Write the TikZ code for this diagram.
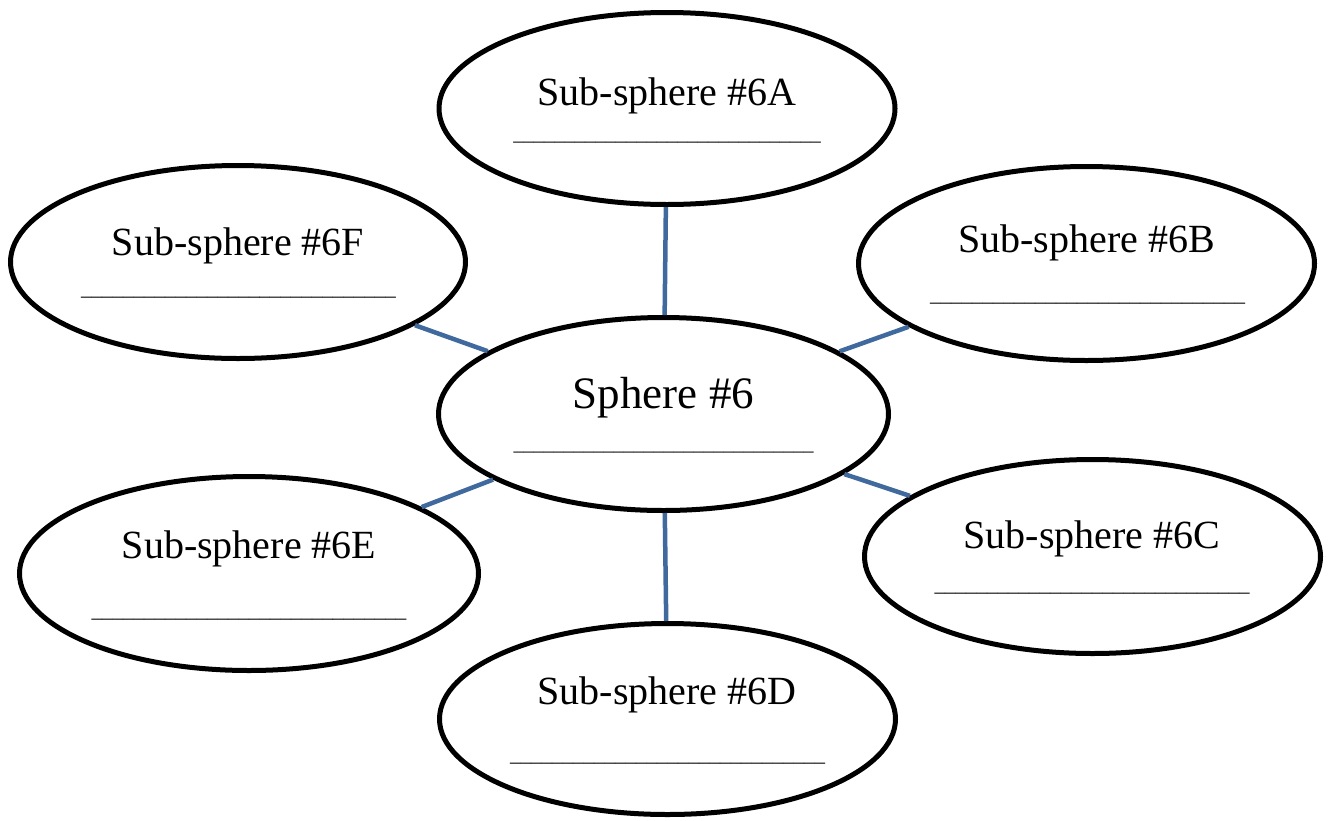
\documentclass[tikz,border=0pt]{standalone}
\usepackage{fontspec}
\setmainfont{Liberation Serif}
\usetikzlibrary{shapes.geometric}
\definecolor{linkblue}{RGB}{64,106,158}
\newcommand{\myblank}{\_\_\_\_\_\_\_\_\_\_\_\_\_\_\_\_\_\_\_\_\_\_\_\_\_\_\_\_\_\_}
\tikzset{
  bubble/.style={ellipse, draw=black, line width=5pt, fill=white, inner sep=0pt,
                 minimum width=456pt, minimum height=193pt},
  subtitle/.style={anchor=base, inner sep=0pt, font=\fontsize{40}{40}\selectfont},
  maintitle/.style={anchor=base, inner sep=0pt, font=\fontsize{45}{45}\selectfont},
  blankline/.style={anchor=base, inner sep=0pt, font=\fontsize{21}{21}\selectfont},
  link/.style={draw=linkblue, line width=4.5pt}
}
\begin{document}
\begin{tikzpicture}[x=1pt,y=-1pt]
\useasboundingbox (0,0) rectangle (1328,820);
% ellipses
\node[bubble] (S) at (663.5,414) [minimum width=450pt] {};
\node[bubble] (A) at (667,108.5) [minimum height=192pt] {};
\node[bubble] (B) at (1086.5,263.5) [minimum height=194pt] {};
\node[bubble] (C) at (1092.5,556.5) [minimum height=194pt] {};
\node[bubble] (D) at (667.5,719) [minimum height=191pt] {};
\node[bubble] (E) at (249,573.5) [minimum width=459pt, minimum height=194pt] {};
\node[bubble] (F) at (238,262) [minimum width=455pt] {};
% connectors
\draw[link] (S) -- (A);
\draw[link] (S) -- (B);
\draw[link] (S) -- (C);
\draw[link] (S) -- (D);
\draw[link] (S) -- (E);
\draw[link] (S) -- (F);
% texts
\node[maintitle] (St) at (663.5,408) {Sphere \#6};
\node[blankline, font=\fontsize{20}{20}\selectfont] (Sl) at (663.5,450) {\myblank};
\node[subtitle] (At) at (667,105) {Sub-sphere \#6A};
\node[blankline, font=\fontsize{20.5}{20.5}\selectfont] (Al) at (667,140) {\myblank};
\node[subtitle] (Bt) at (1086.5,252) {Sub-sphere \#6B};
\node[blankline] (Bl) at (1087.5,301) {\myblank};
\node[subtitle] (Ct) at (1092,548) {Sub-sphere \#6C};
\node[blankline] (Cl) at (1092,591) {\myblank};
\node[subtitle] (Dt) at (667,704) {Sub-sphere \#6D};
\node[blankline] (Dl) at (667.5,761) {\myblank};
\node[subtitle] (Et) at (249,558) {Sub-sphere \#6E};
\node[blankline] (El) at (249,617) {\myblank};
\node[subtitle] (Ft) at (238,255) {Sub-sphere \#6F};
\node[blankline] (Fl) at (238.5,295) {\myblank};
\end{tikzpicture}
\end{document}
